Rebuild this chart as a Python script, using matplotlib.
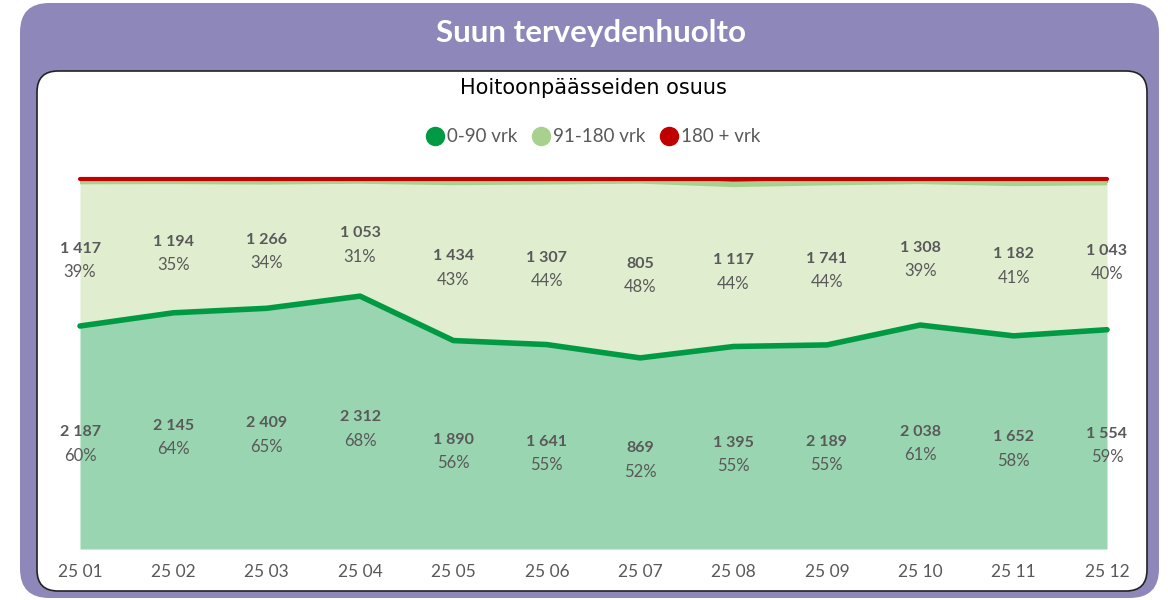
import matplotlib
matplotlib.use("Agg")
import matplotlib.pyplot as plt
from matplotlib.patches import FancyBboxPatch
from matplotlib.lines import Line2D
import numpy as np

# Data
months = ["25 01", "25 02", "25 03", "25 04", "25 05", "25 06",
          "25 07", "25 08", "25 09", "25 10", "25 11", "25 12"]
d0_90 = [2187, 2145, 2409, 2312, 1890, 1641, 869, 1395, 2189, 2038, 1652, 1554]
d91_180 = [1417, 1194, 1266, 1053, 1434, 1307, 805, 1117, 1741, 1308, 1182, 1043]
d180_plus = [15, 12, 18, 9, 22, 14, 4, 30, 28, 12, 26, 18]
pct0_90 = [60, 64, 65, 68, 56, 55, 52, 55, 55, 61, 58, 59]
pct91_180 = [39, 35, 34, 31, 43, 44, 48, 44, 44, 39, 41, 40]

c_dark = "#009A44"
c_area1 = "#99D5B0"
c_area2 = "#E0EDCF"
c_light = "#A9D18E"
c_red = "#C00000"
c_text = "#595959"
plt.rcParams["font.family"] = ["Lato", "DejaVu Sans"]

W, H = 1168, 600
fig = plt.figure(figsize=(W / 100, H / 100), dpi=100)

# purple frame and white panel
fig.patches.append(FancyBboxPatch((20 / W, 2 / H), 1139 / W, 595 / H,
                                  boxstyle="round,pad=0,rounding_size=0.025",
                                  transform=fig.transFigure, facecolor="#8E88BA",
                                  edgecolor="none", mutation_aspect=W / H, zorder=-2))
fig.patches.append(FancyBboxPatch((37 / W, 9 / H), 1110 / W, 520 / H,
                                  boxstyle="round,pad=0,rounding_size=0.018",
                                  transform=fig.transFigure, facecolor="white",
                                  edgecolor="#222222", linewidth=1.2,
                                  mutation_aspect=W / H, zorder=-1))

fig.text(591 / W, 1 - 33 / H, "Suun terveydenhuolto", color="white",
         fontsize=22.5, fontweight="bold", ha="center", va="center")
fig.text(593 / W, 1 - 88 / H, "Hoitoonpäässeiden osuus", color="black",
         fontsize=15, ha="center", va="center", family="DejaVu Sans")

ax = fig.add_axes([80 / W, 51 / H, 1027 / W, 369 / H])
ax.set_zorder(2)
x = np.arange(len(months))
a = np.array(d0_90, dtype=float)
b = np.array(d91_180, dtype=float)
c = np.array(d180_plus, dtype=float)
tot = a + b + c
f1 = a / tot
f2 = (a + b) / tot

ax.fill_between(x, 0, f1, color=c_area1, linewidth=0)
ax.fill_between(x, f1, f2, color=c_area2, linewidth=0)
ax.fill_between(x, f2, 1, color=c_red, linewidth=0)
ax.plot(x, f2, color=c_light, lw=4, solid_capstyle="butt", clip_on=False)
ax.plot(x, np.ones_like(f2) + 0.004, color=c_red, lw=3, solid_capstyle="round", clip_on=False)
ax.plot(x, f1, color=c_dark, lw=4, solid_capstyle="round", clip_on=False)

for i in x:
    m1 = f1[i] / 2
    m2 = (f1[i] + f2[i]) / 2
    for m, n, p in ((m1, d0_90[i], pct0_90[i]), (m2, d91_180[i], pct91_180[i])):
        ax.text(i, m + 0.014, f"{n:,}".replace(",", " "), ha="center", va="center",
                fontsize=11.5, fontweight="bold", color=c_text)
        ax.text(i, m - 0.049, f"{p}%", ha="center", va="center",
                fontsize=12, color=c_text)

ax.set_xlim(0, len(months) - 1)
ax.set_ylim(0, 1)
ax.set_xticks(x)
ax.set_xticklabels(months, fontsize=12.5, color=c_text)
ax.tick_params(axis="x", length=0, pad=11)
ax.set_yticks([])
for s in ax.spines.values():
    s.set_visible(False)
ax.patch.set_alpha(0)

handles = [Line2D([], [], marker="o", linestyle="none", markersize=13, color=col)
           for col in (c_dark, c_light, c_red)]
fig.legend(handles, ["0-90 vrk", "91-180 vrk", "180 + vrk"], loc="center",
           bbox_to_anchor=(593 / W, 1 - 137 / H), ncol=3, frameon=False,
           fontsize=13.5, handletextpad=0.1, columnspacing=0.8,
           labelcolor=c_text, handlelength=1.0)

fig.savefig("out.png", dpi=100)
